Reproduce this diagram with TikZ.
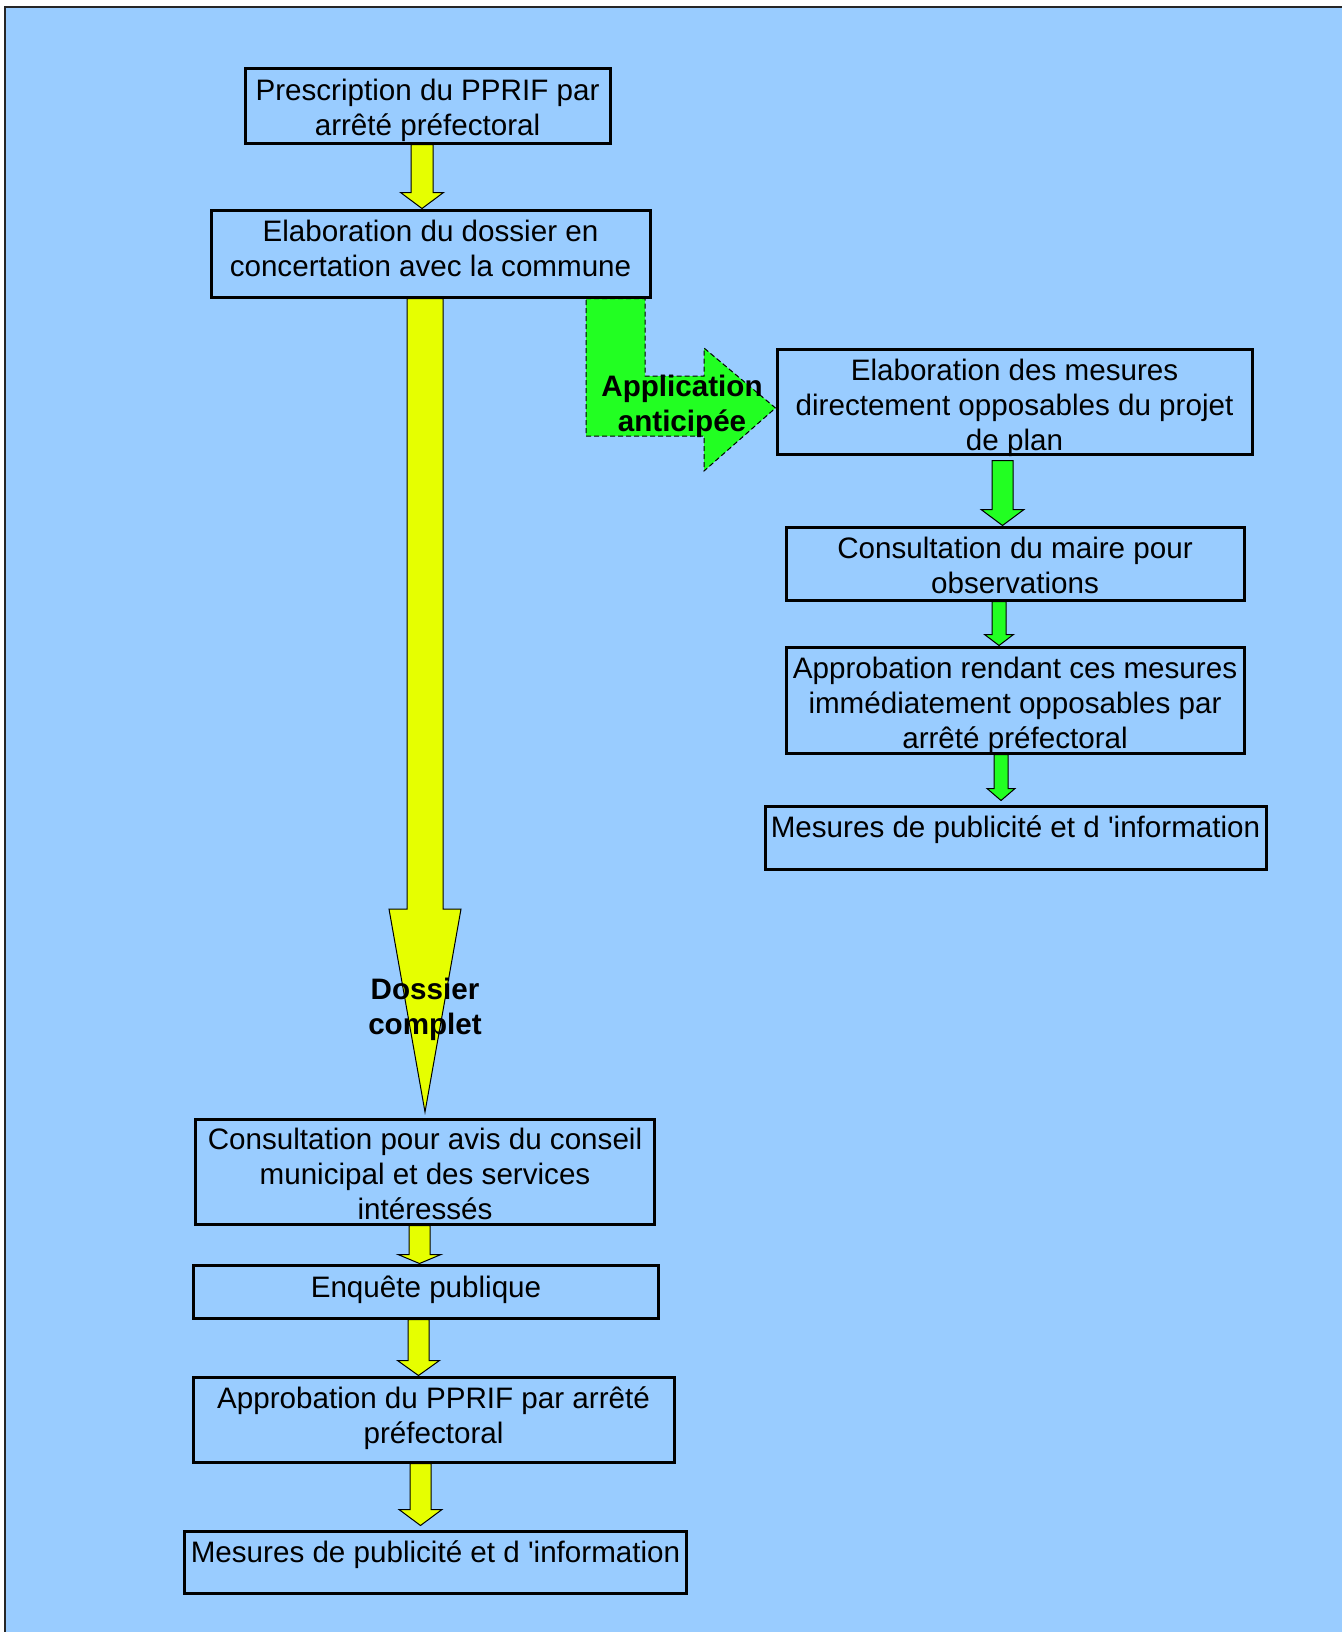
\documentclass[tikz,border=0pt]{standalone}
\usepackage{fontspec}
\setmainfont{Liberation Sans}[Ligatures=TeXOff]
\usetikzlibrary{calc}
\definecolor{bgblue}{HTML}{99CCFF}
\definecolor{ayellow}{HTML}{E6FF00}
\definecolor{agreen}{HTML}{22FF22}
\pgfdeclarelayer{bg}
\pgfdeclarelayer{arrowlayer}
\pgfsetlayers{bg,arrowlayer,main}
% #1 style, #2 start point, #3 tip point, #4 x centre (px), #5 half shaft, #6 half head, #7 head length
\newcommand\blockarrow[7]{%
  \path[#1] let \p1=#2, \p2=#3 in
    ({(#4-#5)*0.5pt},\y1) -- ({(#4+#5)*0.5pt},\y1)
    -- ({(#4+#5)*0.5pt},{\y2+#7*0.5pt}) -- ({(#4+#6)*0.5pt},{\y2+#7*0.5pt})
    -- ({#4*0.5pt},\y2)
    -- ({(#4-#6)*0.5pt},{\y2+#7*0.5pt}) -- ({(#4-#5)*0.5pt},{\y2+#7*0.5pt}) -- cycle;}
\begin{document}
\begin{tikzpicture}[x=0.5pt,y=-0.5pt,
  every node/.style={font=\fontsize{14.8pt}{17.5pt}\selectfont},
  box/.style={draw=black,line width=1.5pt,rectangle,inner sep=0pt,align=center},
  yarr/.style={fill=ayellow,draw=black,line width=0.5pt},
  garr/.style={fill=agreen,draw=black,line width=0.5pt},
  lbl/.style={font=\fontsize{14.8pt}{17.5pt}\selectfont\bfseries,align=center,inner sep=0pt}]
\useasboundingbox (0,0) rectangle (1342,1632);
\begin{pgfonlayer}{bg}
  \fill[white] (0,0) rectangle (1342,1632);
  \fill[bgblue] (5,7) rectangle (1342,1632);
  \draw[line width=0.75pt,black!85] (5,1632) -- (5,7) -- (1342,7);
\end{pgfonlayer}

% left column
\node[box,minimum width=182.5pt,minimum height=37pt,text height=33.15pt,text depth=3.85pt] (b1) at (427.5,106)
  {Prescription du PPRIF par\\arrêté préfectoral};
\node[box,minimum width=219.5pt,minimum height=43.5pt,text height=33pt,text depth=10.5pt] (b2) at (430.5,253.5)
  {Elaboration du dossier en\\concertation avec la commune};
\node[box,minimum width=229.25pt,minimum height=52.5pt,text height=50.45pt,text depth=2.05pt] (b7) at (425,1171.5)
  {Consultation pour avis du conseil\\municipal et des services\\intéressés};
\node[box,minimum width=232.25pt,minimum height=26.5pt,text height=16pt,text depth=10.5pt] (b8) at (426,1291.5)
  {Enquête publique};
\node[box,minimum width=240.5pt,minimum height=42.5pt,text height=33pt,text depth=9.5pt] (b9) at (433.5,1419.5)
  {Approbation du PPRIF par arrêté\\préfectoral};
\node[box,minimum width=251pt,minimum height=31pt,text height=15.6pt,text depth=15.4pt] (b10) at (435.5,1562)
  {Mesures de publicité et d 'information};

% right column
\node[box,minimum width=237.5pt,minimum height=52.5pt,text height=50.85pt,text depth=1.65pt] (b3) at (1014.5,401.5)
  {Elaboration des mesures\\directement opposables du projet\\de plan};
\node[box,minimum width=229pt,minimum height=36.5pt,text height=33.1pt,text depth=3.4pt] (b4) at (1015,563.5)
  {Consultation du maire pour\\observations};
\node[box,minimum width=229pt,minimum height=53pt,text height=50.85pt,text depth=2.15pt] (b5) at (1015,700)
  {Approbation rendant ces mesures\\immédiatement opposables par\\arrêté préfectoral};
\node[box,minimum width=250.5pt,minimum height=31.5pt,text height=15.5pt,text depth=16pt] (b6) at (1015.5,837.5)
  {Mesures de publicité et d 'information};

\coordinate (dtip) at (425,1112);

\begin{pgfonlayer}{arrowlayer}
  \blockarrow{yarr}{(b1.south)}{(b2.north)}{422}{11}{21.5}{16}
  \blockarrow{yarr}{(b2.south)}{(dtip)}{425}{18}{36}{203}
  \blockarrow{yarr}{(b7.south)}{(b8.north)}{419.5}{10.5}{21.5}{9}
  \blockarrow{yarr}{(b8.south)}{(b9.north)}{418.5}{10.5}{21}{15}
  \blockarrow{yarr}{(b9.south)}{($(b10.north)+(0,-4)$)}{420.5}{10.5}{21.5}{16}
  \blockarrow{garr}{($(b3.south)+(0,5)$)}{(b4.north)}{1002.5}{10.5}{21.5}{16}
  \blockarrow{garr}{(b4.south)}{(b5.north)}{999}{7}{14.5}{11}
  \blockarrow{garr}{(b5.south)}{($(b6.north)+(0,-4)$)}{1001}{7}{14}{12}
  % bent "Application anticipee" arrow
  \path[garr,dash pattern=on 2.5pt off 1.5pt] let \p1=(b2.south), \p2=($(b3.west)+(0,6.5)$) in
    (293pt,\y1) -- (322.5pt,\y1) -- (322.5pt,{\y2+16pt}) -- (352pt,{\y2+16pt})
    -- (352pt,{\y2+30pt}) -- (\x2,\y2) -- (352pt,{\y2-31.5pt}) -- (352pt,{\y2-14pt})
    -- (293pt,{\y2-14pt}) -- cycle;
\end{pgfonlayer}

\node[lbl,anchor=base] (dc) at (425,1034) {Dossier\\complet};
\node[lbl,anchor=base] (aa) at (682,431) {Application\\anticipée};
\end{tikzpicture}
\end{document}
